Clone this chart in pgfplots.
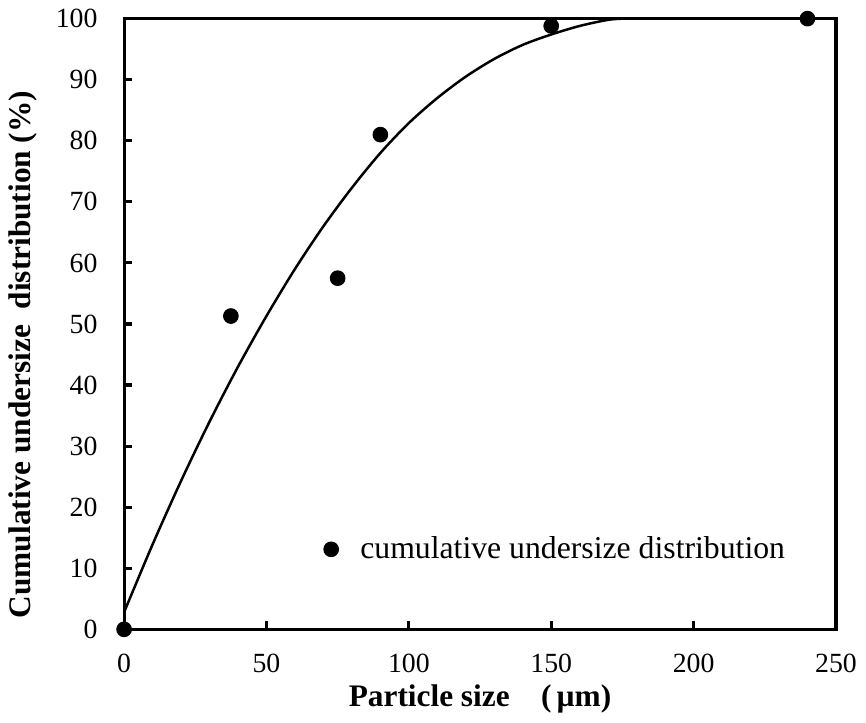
\documentclass[border=0pt]{standalone}
\usepackage{fontspec}
\setmainfont{Liberation Serif}
\usepackage{pgfplots}
\pgfplotsset{compat=1.18}

\begin{document}
\fontsize{14}{16}\selectfont
\begin{tikzpicture}
\begin{axis}[
    scale only axis,
    width=359pt, height=308pt,
    xmin=0, xmax=250, ymin=0, ymax=100,
    xtick={0,50,...,250}, ytick={0,10,...,100},
    line width=1.6pt,
    axis line style={line width=1.6pt},
    tick style={line width=1.6pt, black},
    tick align=inside, major tick length=4pt,
    xtick pos=bottom, ytick pos=left,
    /pgf/number format/assume math mode=true,
    ticklabel style={font=\fontsize{14}{16}\selectfont},
    xticklabel style={yshift=-7pt},
    yticklabel style={xshift=-8pt},
    xlabel={\textbf{Particle size\quad(\,µm)}},
    ylabel={\textbf{Cumulative undersize\ \ distribution (\%)}},
    label style={font=\fontsize{15.8}{18}\selectfont},
    xlabel style={yshift=4pt},
    ylabel style={at={(ticklabel cs:0.45)}, yshift=-1pt},
    clip=false,
    legend style={draw=none, fill=none, at={(0.27,0.131)}, anchor=west,
        font=\fontsize{16}{18}\selectfont},
    legend cell align=left,
]
\addplot[line width=1.25pt, black, smooth, forget plot] coordinates {
(0,2.8) (10,13.9) (20,24.3) (30,34.0) (40,43.0) (50,51.3) (60,59.0)
(70,66.0) (80,72.3) (90,78.0) (100,82.9) (110,87.0) (120,90.5)
(130,93.4) (140,95.7) (150,97.4) (160,98.8) (170,99.8) (176,100)
};
\addplot[only marks, mark=*, mark size=3.7pt, line width=0.5pt, black] coordinates {
(0,0) (37.5,51.3) (75,57.5) (90,81) (150,98.8) (240,100)
};
\addlegendentry{\hspace{9pt}cumulative undersize distribution}
\end{axis}
\end{tikzpicture}
\end{document}
